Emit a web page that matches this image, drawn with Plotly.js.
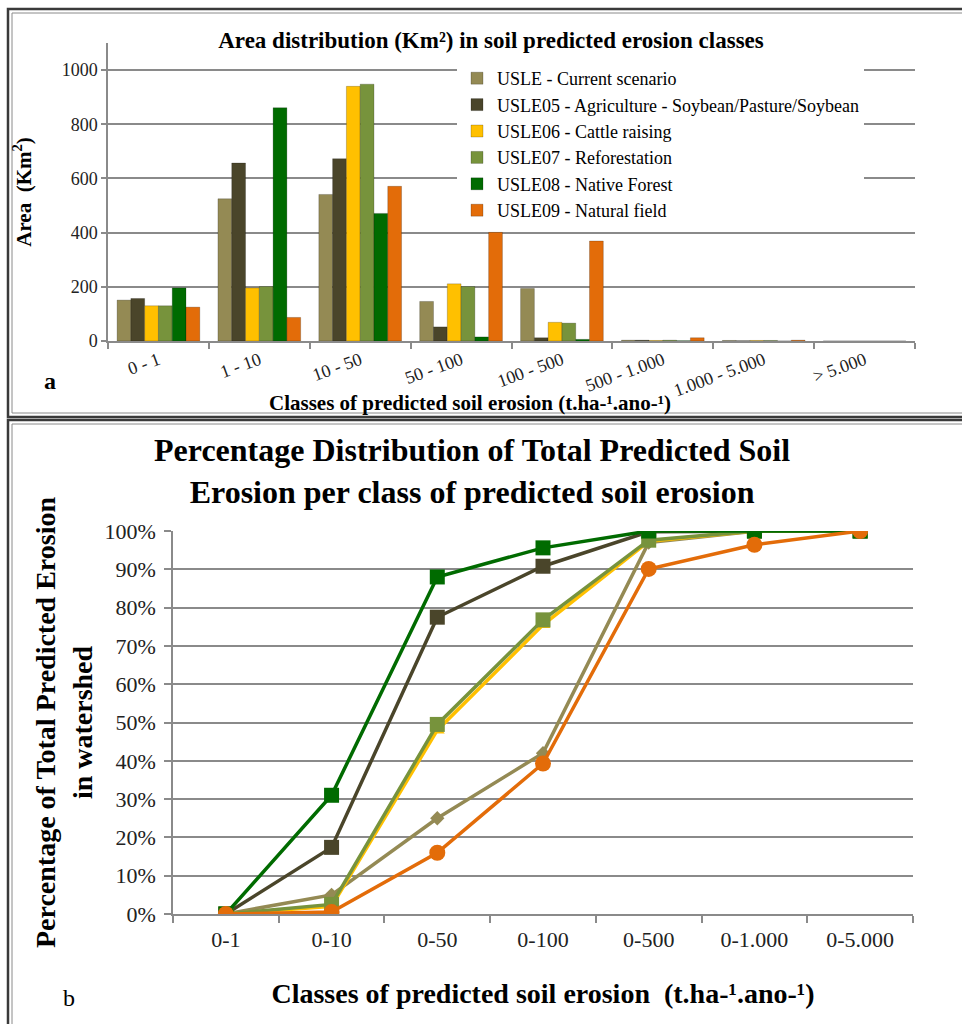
<!DOCTYPE html>
<html>
<head>
<meta charset="utf-8">
<script src="https://cdn.plot.ly/plotly-3.0.1.min.js"></script>
<style>
html,body{margin:0;padding:0;background:#fff;}
#chart{width:962px;height:1024px;}
</style>
</head>
<body>
<div id="chart"></div>
<script>
// ---- Chart a: area per erosion class (Km²) ----
const areaClasses = ['0 - 1', '1 - 10', '10 - 50', '50 - 100', '100 - 500', '500 - 1.000', '1.000 - 5.000', '> 5.000'];
const areaUSLE   = [151, 525, 541, 146, 194, 3, 2, 0];
const areaUSLE05 = [157, 657, 673, 52, 12, 3, 1, 0];
const areaUSLE06 = [130, 196, 940, 211, 69, 2, 2, 0];
const areaUSLE07 = [130, 201, 948, 201, 66, 3, 2, 0];
const areaUSLE08 = [196, 861, 471, 15, 6, 1, 0, 0];
const areaUSLE09 = [125, 87, 571, 401, 369, 12, 3, 0];

// ---- Chart b: cumulative % of total predicted erosion ----
const pctClasses = ['0-1', '0-10', '0-50', '0-100', '0-500', '0-1.000', '0-5.000'];
const pctUSLE   = [0, 5, 25, 42, 97, 99.9, 100];
const pctUSLE05 = [0, 17.4, 77.5, 90.8, 99.8, 100, 100];
const pctUSLE06 = [0, 2, 48, 75.5, 97.3, 100, 100];
const pctUSLE07 = [0, 2.5, 49.5, 76.8, 97.6, 100, 100];
const pctUSLE08 = [0, 31, 88, 95.6, 100, 100, 100];
const pctUSLE09 = [0, 0.5, 16, 39.3, 90.1, 96.4, 100];

const seriesNames = [
  'USLE - Current scenario',
  'USLE05 - Agriculture - Soybean/Pasture/Soybean',
  'USLE06 - Cattle raising',
  'USLE07 - Reforestation',
  'USLE08 - Native Forest',
  'USLE09 - Natural field'
];
const colors = ['#948A54', '#4A452A', '#FFC000', '#77933C', '#006B00', '#E36C09'];
const symbols = ['diamond', 'square', 'triangle-up', 'square', 'square', 'circle'];
const symSizes = [11, 15, 13, 15, 15, 16];

const areaSeries = [areaUSLE, areaUSLE05, areaUSLE06, areaUSLE07, areaUSLE08, areaUSLE09];
const pctSeries = [pctUSLE, pctUSLE05, pctUSLE06, pctUSLE07, pctUSLE08, pctUSLE09];

const W = 962, H = 1024;
const px = v => v / W;
const py = v => 1 - v / H;
const SERIF = 'Liberation Serif';

const traces = [];
areaSeries.forEach((vals, i) => {
  traces.push({
    type: 'bar', x: areaClasses, y: vals, name: seriesNames[i],
    xaxis: 'x', yaxis: 'y',
    marker: {color: colors[i], line: {color: 'rgba(0,0,0,0.3)', width: 0.7}},
    showlegend: true, hoverinfo: 'x+y+name'
  });
});
pctSeries.forEach((vals, i) => {
  traces.push({
    type: 'scatter', mode: 'lines+markers', x: pctClasses, y: vals, name: seriesNames[i],
    xaxis: 'x2', yaxis: 'y2',
    line: {color: colors[i], width: 3.5},
    marker: {color: colors[i], symbol: symbols[i], size: symSizes[i]},
    showlegend: false
  });
});

const gridCol = '#8a8a8a';
const tickCol = '#222';

const layout = {
  width: W, height: H,
  margin: {l: 0, r: 0, t: 0, b: 0},
  paper_bgcolor: '#fff', plot_bgcolor: 'rgba(0,0,0,0)',
  font: {family: SERIF, color: '#000'},
  barmode: 'group', bargap: 0.18, bargroupgap: 0,
  title: {
    text: '<b>Area distribution (Km²) in soil predicted erosion classes</b>',
    x: px(491), xanchor: 'center', xref: 'paper',
    y: py(40), yanchor: 'middle', yref: 'paper',
    font: {family: SERIF, size: 23, color: '#000'}
  },
  xaxis: {
    domain: [px(108), px(915)], anchor: 'y', type: 'category',
    range: [-0.5, 7.5],
    showline: true, linecolor: gridCol, linewidth: 1.5,
    ticks: 'outside', tickson: 'boundaries', ticklen: 6, tickcolor: gridCol, tickwidth: 1.5,
    tickangle: -20, tickfont: {family: SERIF, size: 18, color: tickCol},
    showgrid: false, zeroline: false
  },
  yaxis: {
    domain: [py(341), py(43)], anchor: 'x',
    range: [0, 1100], tickvals: [0, 200, 400, 600, 800, 1000],
    showgrid: true, gridcolor: gridCol, gridwidth: 1.5,
    showline: true, linecolor: gridCol, linewidth: 1.5,
    ticks: 'outside', ticklen: 5, tickcolor: gridCol, tickwidth: 1.5,
    tickfont: {family: SERIF, size: 18, color: tickCol},
    zeroline: false,
    title: {text: '<b>Area  (Km<sup>2</sup>)</b>', font: {family: SERIF, size: 21, color: '#000'}, standoff: 24}
  },
  xaxis2: {
    domain: [px(173), px(913)], anchor: 'y2', type: 'category',
    range: [-0.5, 6.5],
    showline: true, linecolor: gridCol, linewidth: 1.5,
    ticks: 'outside', tickson: 'boundaries', ticklen: 7, tickcolor: gridCol, tickwidth: 1.5,
    ticklabelstandoff: 5,
    tickfont: {family: SERIF, size: 22, color: tickCol},
    showgrid: false, zeroline: false,
    title: {text: '<b>Classes of predicted soil erosion  (t.ha-¹.ano-¹)</b>', font: {family: SERIF, size: 28, color: '#000'}, standoff: 32}
  },
  yaxis2: {
    domain: [py(914), py(531)], anchor: 'x2',
    range: [0, 100], dtick: 10, ticksuffix: '%',
    showgrid: true, gridcolor: gridCol, gridwidth: 1.5,
    showline: true, linecolor: gridCol, linewidth: 1.5,
    ticks: 'outside', ticklen: 7, tickcolor: gridCol, tickwidth: 1.5,
    ticklabelstandoff: 4,
    tickfont: {family: SERIF, size: 22, color: tickCol},
    zeroline: false,
    title: {text: '<b>Percentage of Total Predicted Erosion<br>in watershed</b>', font: {family: SERIF, size: 28, color: '#000'}, standoff: 4}
  },
  legend: {
    x: px(457), xanchor: 'left', y: py(60), yanchor: 'top',
    bgcolor: '#fff', borderwidth: 0, itemwidth: 30,
    font: {family: SERIF, size: 18, color: '#000'},
    traceorder: 'normal'
  },
  annotations: [
    {text: '<b>Classes of predicted soil erosion (t.ha-¹.ano-¹)</b>', xref: 'paper', yref: 'paper',
     x: px(470), y: py(403), xanchor: 'center', yanchor: 'middle', showarrow: false,
     font: {family: SERIF, size: 21, color: '#000'}},
    {text: '<b>a</b>', xref: 'paper', yref: 'paper', x: px(50), y: py(381),
     xanchor: 'center', yanchor: 'middle', showarrow: false, font: {family: SERIF, size: 24, color: '#000'}},
    {text: '<b>Percentage Distribution of Total Predicted Soil<br>Erosion per class of predicted soil erosion</b>',
     xref: 'paper', yref: 'paper', x: px(472), y: py(471), xanchor: 'center', yanchor: 'middle',
     showarrow: false, font: {family: SERIF, size: 32, color: '#000'}},
    {text: 'b', xref: 'paper', yref: 'paper', x: px(69), y: py(998),
     xanchor: 'center', yanchor: 'middle', showarrow: false, font: {family: SERIF, size: 24, color: '#000'}}
  ],
  shapes: [
    {type: 'rect', xref: 'paper', yref: 'paper', x0: px(8), x1: px(975), y0: py(417), y1: py(9),
     line: {color: '#3a3a3a', width: 2.5}, fillcolor: 'rgba(0,0,0,0)'},
    {type: 'rect', xref: 'paper', yref: 'paper', x0: px(12), x1: px(975), y0: py(413), y1: py(13),
     line: {color: '#8a8a8a', width: 1}, fillcolor: 'rgba(0,0,0,0)'},
    {type: 'rect', xref: 'paper', yref: 'paper', x0: px(8), x1: px(975), y0: py(1040), y1: py(420),
     line: {color: '#3a3a3a', width: 2.5}, fillcolor: 'rgba(0,0,0,0)'},
    {type: 'rect', xref: 'paper', yref: 'paper', x0: px(12), x1: px(975), y0: py(1040), y1: py(424),
     line: {color: '#8a8a8a', width: 1}, fillcolor: 'rgba(0,0,0,0)'}
  ]
};

Plotly.newPlot('chart', traces, layout, {displayModeBar: false, responsive: false});
</script>
</body>
</html>
